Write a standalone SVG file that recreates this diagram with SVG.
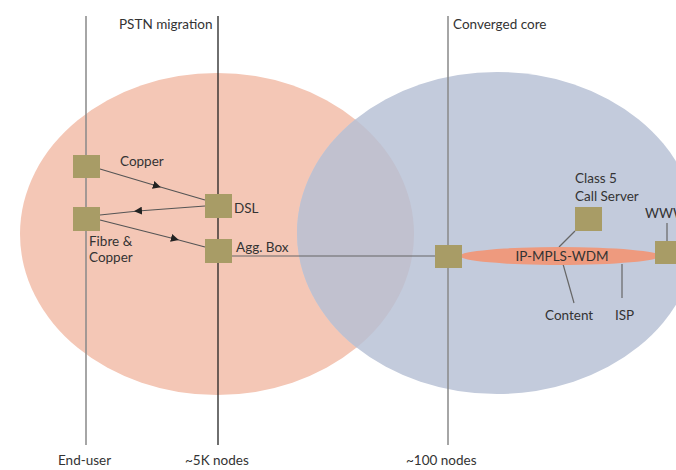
<svg xmlns="http://www.w3.org/2000/svg" width="676" height="470" viewBox="0 0 676 470">
<style>
text{font-family:Lato,"Liberation Sans",sans-serif;font-size:13.5px;fill:#333}
.node{fill:#A89C66}
.conn{stroke:#666;stroke-width:1.2;fill:none}
.arr{stroke:#555;stroke-width:1.2;fill:none;marker-mid:url(#ah)}
</style>
<defs>
<marker id="ah" viewBox="0 0 10 10" refX="5" refY="5" markerWidth="8" markerHeight="8" markerUnits="userSpaceOnUse" orient="auto"><path d="M0,0L10,5L0,10z" fill="#222"/></marker>
<clipPath id="lc"><ellipse cx="217" cy="234" rx="197" ry="161"/></clipPath>
</defs>
<g id="regions">
<ellipse cx="217" cy="234" rx="197" ry="161" fill="#F4C7B6"/>
<ellipse cx="497" cy="233" rx="200" ry="161" fill="#C3CBDC"/>
<ellipse cx="497" cy="233" rx="200" ry="161" fill="#C1C1CF" clip-path="url(#lc)"/>
</g>
<g id="axes">
<line x1="86" y1="16" x2="86" y2="445" stroke="#888" stroke-width="1.5"/>
<line x1="218" y1="16" x2="218" y2="445" stroke="#222" stroke-width="1.3"/>
<line x1="448" y1="16" x2="448" y2="445" stroke="#888" stroke-width="1.5"/>
<text x="119" y="29">PSTN migration</text>
<text x="453" y="29">Converged core</text>
<text x="58" y="465">End-user</text>
<text x="185" y="465">~5K nodes</text>
<text x="406" y="465">~100 nodes</text>
</g>
<g id="connectors">
<path class="arr" d="M100,169 L157,186 L205,200"/>
<path class="arr" d="M205,206 L138,211 L100,215"/>
<path class="arr" d="M100,220 L175,239 L205,247"/>
<line class="conn" x1="232" y1="256" x2="435" y2="256"/>
<line class="conn" x1="575" y1="231" x2="559" y2="247"/>
<line class="conn" x1="563" y1="264" x2="574" y2="303"/>
<line class="conn" x1="622" y1="264" x2="622" y2="298"/>
<line class="conn" x1="667" y1="223" x2="667" y2="241"/>
</g>
<g id="core-ring">
<ellipse cx="560" cy="256" rx="100" ry="9" fill="#EE9A7E"/>
<text x="562" y="261" text-anchor="middle">IP-MPLS-WDM</text>
</g>
<g id="n-copper"><rect class="node" x="73" y="155" width="27" height="23"/><text x="120" y="166">Copper</text></g>
<g id="n-fibre"><rect class="node" x="73" y="207" width="27" height="24"/><text x="89" y="246">Fibre &amp;</text><text x="89" y="262">Copper</text></g>
<g id="n-dsl"><rect class="node" x="205" y="194" width="27" height="24"/><text x="234" y="213">DSL</text></g>
<g id="n-agg"><rect class="node" x="205" y="239" width="27" height="24"/><text x="236" y="252">Agg. Box</text></g>
<g id="n-core"><rect class="node" x="435" y="245" width="27" height="23"/></g>
<g id="n-class5"><rect class="node" x="575" y="207" width="27" height="24"/><text x="575" y="183">Class 5</text><text x="575" y="201">Call Server</text></g>
<g id="n-www"><rect class="node" x="655" y="241" width="27" height="23"/><text x="645" y="218">WWW</text></g>
<g id="n-content"><text x="545" y="320">Content</text></g>
<g id="n-isp"><text x="615" y="320">ISP</text></g>
</svg>
